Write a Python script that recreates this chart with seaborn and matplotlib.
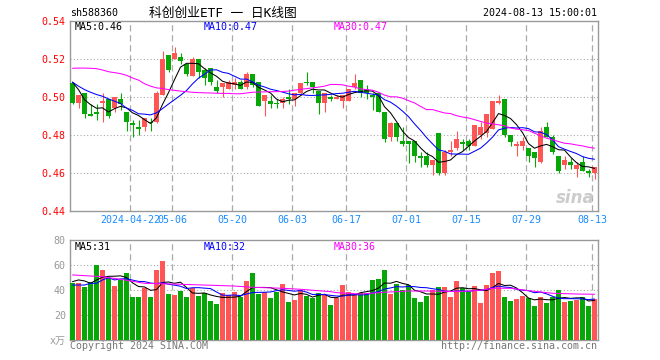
import numpy as np
import pandas as pd
import matplotlib
matplotlib.use("Agg")
import matplotlib.pyplot as plt
import seaborn as sns

# daily candles, 2024-04-08 .. 2024-08-13 (88 trading days)
opens = [0.507, 0.497, 0.502, 0.491, 0.492, 0.497, 0.499, 0.494, 0.499, 0.492,
         0.486, 0.484, 0.484, 0.487, 0.487, 0.501, 0.522, 0.520, 0.521, 0.517,
         0.511, 0.520, 0.514, 0.515, 0.505, 0.505, 0.504, 0.506, 0.508, 0.505,
         0.512, 0.508, 0.498, 0.498, 0.497, 0.497, 0.500, 0.499, 0.502, 0.508,
         0.508, 0.503, 0.497, 0.500, 0.499, 0.498, 0.498, 0.505, 0.509, 0.504,
         0.501, 0.502, 0.492, 0.479, 0.486, 0.477, 0.477, 0.477, 0.469, 0.469,
         0.464, 0.481, 0.460, 0.471, 0.473, 0.476, 0.477, 0.474, 0.480, 0.481,
         0.483, 0.497, 0.499, 0.480, 0.474, 0.474, 0.473, 0.471, 0.466, 0.484,
         0.479, 0.469, 0.464, 0.466, 0.462, 0.466, 0.461, 0.460]
highs = [0.507, 0.501, 0.502, 0.496, 0.496, 0.502, 0.499, 0.500, 0.502, 0.492,
         0.488, 0.488, 0.489, 0.489, 0.503, 0.524, 0.522, 0.526, 0.523, 0.517,
         0.521, 0.520, 0.515, 0.515, 0.509, 0.507, 0.509, 0.510, 0.509, 0.513,
         0.512, 0.508, 0.501, 0.501, 0.499, 0.500, 0.504, 0.502, 0.507, 0.513,
         0.508, 0.503, 0.502, 0.501, 0.501, 0.501, 0.504, 0.512, 0.509, 0.506,
         0.502, 0.502, 0.492, 0.487, 0.486, 0.484, 0.477, 0.477, 0.471, 0.471,
         0.467, 0.481, 0.472, 0.477, 0.482, 0.478, 0.478, 0.485, 0.487, 0.491,
         0.498, 0.501, 0.499, 0.480, 0.477, 0.479, 0.473, 0.471, 0.484, 0.487,
         0.480, 0.469, 0.469, 0.468, 0.466, 0.469, 0.462, 0.463]
lows = [0.496, 0.494, 0.489, 0.490, 0.488, 0.487, 0.489, 0.492, 0.493, 0.482,
        0.479, 0.480, 0.482, 0.482, 0.486, 0.501, 0.513, 0.520, 0.517, 0.511,
        0.511, 0.510, 0.506, 0.506, 0.502, 0.500, 0.504, 0.504, 0.504, 0.504,
        0.505, 0.495, 0.490, 0.494, 0.494, 0.494, 0.496, 0.495, 0.501, 0.506,
        0.502, 0.491, 0.492, 0.498, 0.499, 0.494, 0.498, 0.504, 0.500, 0.499,
        0.493, 0.492, 0.476, 0.477, 0.477, 0.474, 0.465, 0.466, 0.463, 0.463,
        0.459, 0.459, 0.459, 0.469, 0.472, 0.472, 0.472, 0.474, 0.478, 0.479,
        0.483, 0.496, 0.479, 0.474, 0.469, 0.472, 0.466, 0.463, 0.465, 0.479,
        0.470, 0.460, 0.462, 0.462, 0.458, 0.461, 0.458, 0.457]
closes = [0.497, 0.501, 0.491, 0.490, 0.491, 0.498, 0.490, 0.500, 0.496, 0.487,
          0.485, 0.483, 0.489, 0.486, 0.502, 0.520, 0.514, 0.523, 0.519, 0.512,
          0.520, 0.513, 0.510, 0.508, 0.503, 0.507, 0.508, 0.508, 0.504, 0.512,
          0.506, 0.495, 0.501, 0.496, 0.496, 0.499, 0.499, 0.502, 0.507, 0.507,
          0.505, 0.497, 0.502, 0.499, 0.500, 0.501, 0.504, 0.507, 0.502, 0.502,
          0.500, 0.492, 0.478, 0.486, 0.479, 0.475, 0.475, 0.469, 0.468, 0.464,
          0.467, 0.460, 0.471, 0.472, 0.478, 0.475, 0.474, 0.485, 0.484, 0.491,
          0.498, 0.498, 0.480, 0.476, 0.475, 0.477, 0.469, 0.468, 0.482, 0.479,
          0.471, 0.461, 0.467, 0.464, 0.464, 0.461, 0.460, 0.463]
volumes = [45.5, 45.5, 42.8, 46.8, 60.2, 56.2, 49.5, 43.3, 48.2, 53.5,
           34.8, 34.8, 41.5, 34.8, 56.2, 63.4, 36.9, 36.1, 39.3, 34.8,
           41.5, 35.6, 37.5, 31.3, 28.9, 37.5, 36.1, 38.3, 34.8, 47.4,
           53.5, 36.9, 38.3, 34.0, 38.8, 45.0, 30.8, 32.1, 40.1, 35.3,
           34.0, 38.0, 36.1, 28.1, 33.4, 44.1, 38.8, 36.1, 37.5, 37.5,
           48.2, 49.0, 56.2, 36.9, 44.7, 40.1, 44.1, 34.0, 30.8, 35.6,
           40.1, 42.8, 42.8, 34.8, 47.4, 42.0, 38.8, 43.3, 30.0, 44.1,
           54.0, 55.7, 34.8, 31.3, 32.9, 35.3, 34.0, 27.6, 34.8, 30.0,
           34.8, 40.1, 30.8, 31.3, 32.1, 34.8, 27.6, 32.9]

# moving averages whose window reaches before the first visible day
ma5_head = [0.5077, 0.5038, 0.4985, 0.4959]
ma10_head = [0.5077, 0.5056, 0.5038, 0.5024, 0.5012, 0.5003, 0.4989, 0.4977, 0.4965]
ma30 = [0.5150, 0.5151, 0.5151, 0.5150, 0.5148, 0.5141, 0.5132, 0.5127, 0.5122, 0.5113,
        0.5099, 0.5088, 0.5069, 0.5056, 0.5047, 0.5044, 0.5038, 0.5034, 0.5030, 0.5027,
        0.5024, 0.5022, 0.5021, 0.5020, 0.5019, 0.5018, 0.5018, 0.5016, 0.5016, 0.5020,
        0.5024, 0.5025, 0.5026, 0.5027, 0.5027, 0.5028, 0.5030, 0.5035, 0.5039, 0.5043,
        0.5047, 0.5051, 0.5056, 0.5065, 0.5065, 0.5063, 0.5056, 0.5051, 0.5042, 0.5038,
        0.5035, 0.5024, 0.5009, 0.5000, 0.5000, 0.4993, 0.4980, 0.4968, 0.4950, 0.4933,
        0.4933, 0.4924, 0.4915, 0.4912, 0.4901, 0.4894, 0.4889, 0.4880, 0.4871, 0.4862,
        0.4858, 0.4853, 0.4848, 0.4836, 0.4830, 0.4827, 0.4823, 0.4809, 0.4795, 0.4783,
        0.4774, 0.4765, 0.4756, 0.4753, 0.4747, 0.4742, 0.4735, 0.4730]
vma5_head = [46.8, 48.2, 47.4, 45.5]
vma10_head = [44.1, 44.1, 44.1, 45.5, 45.5, 48.2, 50.0, 48.2, 49.0]
vma30_idx = [0, 5, 8, 12, 16, 22, 27, 30, 35, 38, 43, 44, 48, 52, 56, 60, 64, 68, 70, 73, 76, 80, 84, 87]
vma30_val = [52.2, 50.8, 48.7, 45.5, 45.0, 44.1, 43.3, 42.3, 41.5, 40.7, 38.8, 38.0, 36.9, 38.3,
             39.3, 39.3, 38.8, 39.9, 41.5, 41.5, 39.6, 37.5, 36.9, 36.7]

tick_idx = [10, 17, 27, 37, 46, 56, 66, 76, 87]
tick_labels = ["2024-04-22", "05-06", "05-20", "06-03", "06-17", "07-01", "07-15", "07-29", "08-13"]

RED = "#ff5555"
GREEN = "#07a707"
GRID = "#aaaaaa"
FRAME = "#999999"

df = pd.DataFrame({"open": opens, "high": highs, "low": lows, "close": closes, "vol": volumes})
df["i"] = np.arange(len(df))
df["dir"] = np.where(df["close"] >= df["open"], "up", "down")
colors = df["dir"].map({"up": RED, "down": GREEN})

ma5 = df["close"].rolling(5).mean()
ma5.iloc[:4] = ma5_head
ma10 = df["close"].rolling(10).mean()
ma10.iloc[:9] = ma10_head
vma5 = df["vol"].rolling(5).mean()
vma5.iloc[:4] = vma5_head
vma10 = df["vol"].rolling(10).mean()
vma10.iloc[:9] = vma10_head

sns.set_theme(style="white")
plt.rcParams["font.family"] = ["DejaVu Sans Mono", "Noto Sans CJK SC"]

W, H = 660, 360
fig = plt.figure(figsize=(6.6, 3.6), dpi=100)
ax1 = fig.add_axes([70 / W, 1 - 211 / H, 528 / W, 190.3 / H])
ax2 = fig.add_axes([70 / W, 1 - 340 / H, 528 / W, 99.7 / H])

half = 0.4167
xlim = (-half, len(df) - half)
grid_x = [t - half for t in tick_idx]

# price panel
ax1.vlines(df["i"], df["low"], df["high"], colors=colors, lw=0.8, zorder=3)
ax1.bar(df["i"], np.maximum((df["close"] - df["open"]).abs(), 0.0004),
        bottom=np.minimum(df["open"], df["close"]), width=0.83, color=colors,
        linewidth=0, zorder=3)
sns.lineplot(x=df["i"], y=ma5, color="black", lw=0.75, estimator=None, ax=ax1, zorder=4)
sns.lineplot(x=df["i"], y=ma10, color="#0000ff", lw=0.75, estimator=None, ax=ax1, zorder=4)
sns.lineplot(x=df["i"], y=ma30, color="#ff00ff", lw=0.75, estimator=None, ax=ax1, zorder=4)

ax1.set_xlim(xlim)
ax1.set_ylim(0.44, 0.54)
for y in [0.46, 0.48, 0.50, 0.52]:
    ax1.axhline(y, color=GRID, lw=0.8, ls=(0, (1, 2)), zorder=1)
for x in grid_x:
    ax1.axvline(x, color=GRID, lw=0.9, ls=(0, (5, 3)), zorder=1)
ax1.set_yticks([0.44, 0.46, 0.48, 0.50, 0.52, 0.54])
ax1.set_yticklabels(["0.44", "0.46", "0.48", "0.50", "0.52", "0.54"], color="#ff0000", fontsize=7.2)
ax1.set_xticks(grid_x)
ax1.set_xticklabels(tick_labels, color="#1a8cff", fontsize=7.2)
ax1.tick_params(length=0, pad=3)
ax1.set_xlabel("")
ax1.set_ylabel("")

# volume panel
sns.barplot(x=df["i"], y=df["vol"], hue=df["dir"], palette={"up": RED, "down": GREEN},
            dodge=False, width=0.83, saturation=1, linewidth=0, legend=False, ax=ax2, zorder=3)
sns.lineplot(x=df["i"], y=vma5, color="black", lw=0.75, estimator=None, ax=ax2, zorder=4)
sns.lineplot(x=df["i"], y=vma10, color="#0000ff", lw=0.75, estimator=None, ax=ax2, zorder=4)
sns.lineplot(x=vma30_idx, y=vma30_val, color="#ff00ff", lw=0.75, estimator=None, ax=ax2, zorder=4)

ax2.set_xlim(xlim)
ax2.set_ylim(0, 80)
for y in [20, 40, 60]:
    ax2.axhline(y, color=GRID, lw=0.8, ls=(0, (1, 2)), zorder=1)
for x in grid_x:
    ax2.axvline(x, color=GRID, lw=0.9, ls=(0, (5, 3)), zorder=1)
ax2.set_yticks([0, 20, 40, 60, 80])
ax2.set_yticklabels(["x万", "20", "40", "60", "80"], color=FRAME, fontsize=7.2)
ax2.set_xticks([])
ax2.tick_params(length=0, pad=3)
ax2.set_xlabel("")
ax2.set_ylabel("")

for ax in (ax1, ax2):
    ax.set_facecolor("white")
    for s in ax.spines.values():
        s.set_color(FRAME)
        s.set_linewidth(1)


def px_text(x, y, s, **kw):
    fig.text(x / W, 1 - y / H, s, va="center", **kw)


px_text(70, 13, "sh588360", fontsize=7.2, color="black")
px_text(223, 13, "科创创业ETF 一 日K线图", fontsize=9.2, color="black", ha="center")
px_text(597, 13, "2024-08-13 15:00:01", fontsize=7.2, color="black", ha="right")

px_text(75, 27, "MA5:0.46", fontsize=7.2, color="black")
px_text(204, 27, "MA10:0.47", fontsize=7.2, color="#0000ff")
px_text(334, 27, "MA30:0.47", fontsize=7.2, color="#ff00ff")
px_text(75, 247, "MA5:31", fontsize=7.2, color="black")
px_text(204, 247, "MA10:32", fontsize=7.2, color="#0000ff")
px_text(334, 247, "MA30:36", fontsize=7.2, color="#ff00ff")

px_text(575, 198, "sina", fontsize=12, color="#cccccc", ha="center", style="italic",
        weight="bold", family="DejaVu Sans")

px_text(70, 346, "Copyright 2024 SINA.COM", fontsize=7.2, color="#777777")
px_text(597, 346, "http://finance.sina.com.cn", fontsize=7.2, color="#777777", ha="right")

fig.savefig("out.png", dpi=100)
